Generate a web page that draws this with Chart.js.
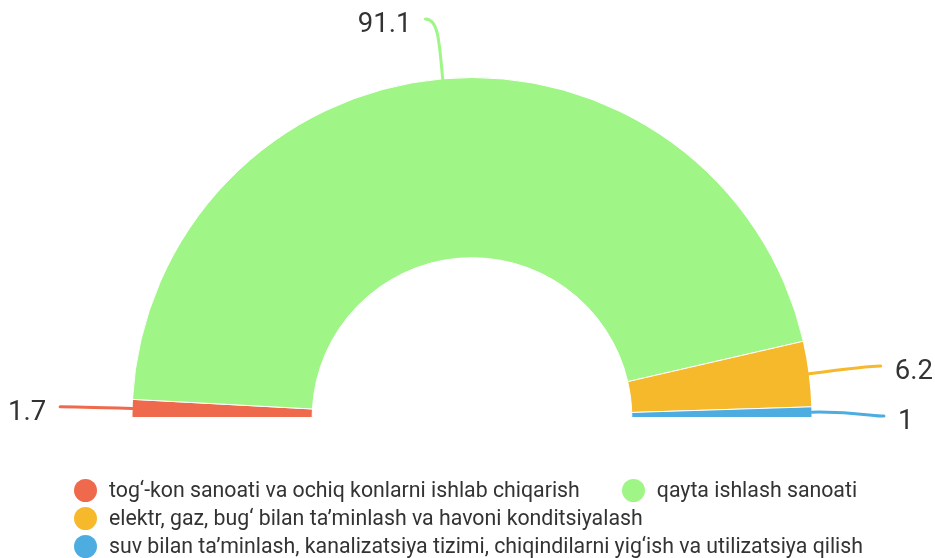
<!DOCTYPE html>
<html>
<head>
<meta charset="utf-8">
<script src="https://cdn.jsdelivr.net/npm/chart.js@4"></script>
<style>
  html, body { margin: 0; padding: 0; background: #fff; }
  #wrap { position: relative; width: 935px; height: 558px; }
  #c { position: absolute; left: 0; top: 0; }
  #legend {
    position: absolute; left: 74px; top: 476px; width: 860px;
    display: flex; flex-wrap: wrap; font-family: Roboto, sans-serif;
    font-size: 21.3px; color: #333; line-height: 28px;
  }
  .item { display: flex; align-items: center; margin-right: 42px; height: 28px; white-space: nowrap; }
  .dot { width: 23px; height: 23px; border-radius: 50%; margin-right: 12px; flex: none; }
</style>
</head>
<body>
<div id="wrap">
  <canvas id="c" width="935" height="558"></canvas>
  <div id="legend"></div>
</div>
<script>
const categories = [
  "tog\u2018-kon sanoati va ochiq konlarni ishlab chiqarish",
  "qayta ishlash sanoati",
  "elektr, gaz, bug\u2018 bilan ta\u2019minlash va havoni konditsiyalash",
  "suv bilan ta\u2019minlash, kanalizatsiya tizimi, chiqindilarni yig\u2018ish va utilizatsiya qilish"
];
const values = [1.7, 91.1, 6.2, 1];
const valueLabels = ["1.7", "91.1", "6.2", "1"];
const colors = ["#EF6A4C", "#A0F587", "#F7B92C", "#4DADE0"];

const leaderLabels = {
  id: 'leaderLabels',
  afterDatasetsDraw(chart) {
    const meta = chart.getDatasetMeta(0);
    const ctx = chart.ctx;
    const items = meta.data.map((arc, i) => {
      const p = arc.getProps(['x', 'y', 'startAngle', 'endAngle', 'outerRadius'], true);
      const mid = (p.startAngle + p.endAngle) / 2;
      const cs = Math.cos(mid), sn = Math.sin(mid);
      const ax = p.x + cs * p.outerRadius, ay = p.y + sn * p.outerRadius;
      const br = p.outerRadius + 60;
      const bx = p.x + cs * br, by = p.y + sn * br;
      return { i, ax, ay, bx, by, ey: by, right: cs >= 0 };
    });
    [true, false].forEach(side => {
      const s = items.filter(it => it.right === side).sort((a, b) => a.ey - b.ey);
      for (let k = 1; k < s.length; k++) {
        if (s[k].ey < s[k - 1].ey + 50) s[k].ey = s[k - 1].ey + 50;
      }
    });
    ctx.save();
    items.forEach(it => {
      const dir = it.right ? 1 : -1;
      const ex = it.bx + dir * 12;
      const cp1x = it.ax + 0.7 * (it.bx - it.ax), cp1y = it.ay + 0.7 * (it.by - it.ay);
      ctx.beginPath();
      ctx.moveTo(it.ax, it.ay);
      ctx.bezierCurveTo(cp1x, cp1y, it.bx, it.ey, ex, it.ey);
      ctx.strokeStyle = colors[it.i];
      ctx.lineWidth = 3;
      ctx.lineCap = 'round';
      ctx.stroke();
      ctx.font = '27.5px Roboto, sans-serif';
      ctx.fillStyle = '#333';
      ctx.textBaseline = 'middle';
      ctx.textAlign = it.right ? 'left' : 'right';
      ctx.fillText(valueLabels[it.i], ex + dir * 14, it.ey + 6);
    });
    ctx.restore();
  }
};

new Chart(document.getElementById('c'), {
  type: 'doughnut',
  data: {
    labels: categories,
    datasets: [{
      data: values,
      backgroundColor: colors,
      borderColor: '#ffffff',
      borderWidth: 1,
      hoverOffset: 0
    }]
  },
  options: {
    responsive: false,
    animation: false,
    rotation: -90,
    circumference: 180,
    cutout: '47%',
    layout: { padding: { left: 131, right: 122, top: 77, bottom: 140 } },
    plugins: {
      legend: { display: false },
      tooltip: { enabled: false }
    },
    events: []
  },
  plugins: [leaderLabels]
});

const lg = document.getElementById('legend');
categories.forEach((c, i) => {
  const it = document.createElement('div');
  it.className = 'item';
  const d = document.createElement('span');
  d.className = 'dot';
  d.style.background = colors[i];
  const t = document.createElement('span');
  t.textContent = c;
  it.appendChild(d); it.appendChild(t);
  lg.appendChild(it);
});
</script>
</body>
</html>
